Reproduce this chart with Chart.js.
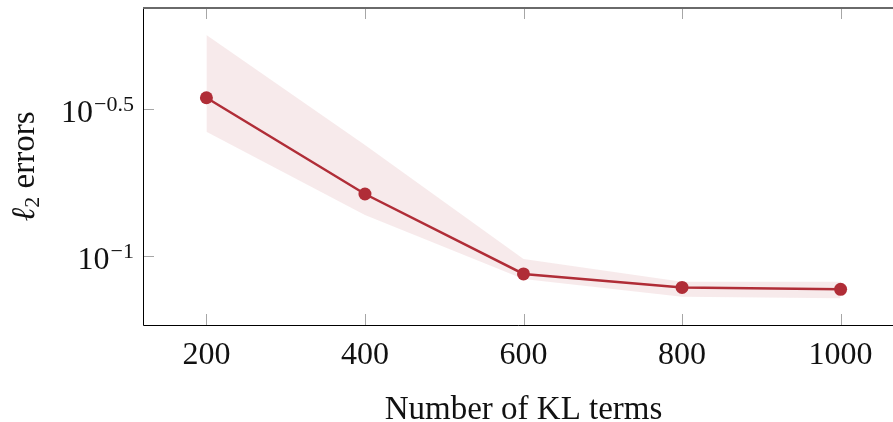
<!DOCTYPE html>
<html>
<head>
<meta charset="utf-8">
<script src="https://cdn.jsdelivr.net/npm/chart.js@4"></script>
<style>
  html, body { margin: 0; padding: 0; background: #fff; overflow: hidden; }
  #klChart { display: block; }
</style>
</head>
<body>
<canvas id="klChart" width="893" height="422" style="width:893px;height:422px"></canvas>
<script>
// data
const klTerms = [200, 400, 600, 800, 1000];
const meanError = [0.3454, 0.1625, 0.0869, 0.0782, 0.0770];
const upperError = [0.5646, 0.2385, 0.0977, 0.0818, 0.0818];
const lowerError = [0.2648, 0.1378, 0.0835, 0.0727, 0.0718];

// axis ticks
const xTicks = [200, 400, 600, 800, 1000];
const yTicks = [Math.pow(10, -1), Math.pow(10, -0.5)];
const yTickExps = ["\u22121", "\u22120.5"];

// the plot box spans 120..1080, but the picture is cut off at about 1066
const xBoxMin = 120;
const xBoxMax = 1080;
const xVisibleMax = 1066.1;

const lineColor = "rgb(176, 45, 55)";
const bandColor = "rgba(176, 45, 55, 0.1)";
const serif = "'Liberation Serif', 'DejaVu Serif', serif";

function toPoints(values) {
    return klTerms.map((k, i) => ({ x: k, y: values[i] }));
}

// draws the box, inner ticks and all the text (tex-like labels)
const framePlugin = {
    id: "frame",
    afterDraw(chart) {
        const { ctx, chartArea: a, scales: { x, y } } = chart;
        const boxRight = x.getPixelForValue(xBoxMax); // just outside the canvas
        ctx.save();

        // inner ticks on all four sides
        ctx.strokeStyle = "#a6a6a6";
        ctx.lineWidth = 1;
        ctx.beginPath();
        xTicks.forEach((v) => {
            const px = Math.round(x.getPixelForValue(v)) + 0.5;
            ctx.moveTo(px, a.bottom); ctx.lineTo(px, a.bottom - 11);
            ctx.moveTo(px, a.top); ctx.lineTo(px, a.top + 11);
        });
        yTicks.forEach((v) => {
            const py = Math.round(y.getPixelForValue(v)) + 0.5;
            ctx.moveTo(a.left, py); ctx.lineTo(a.left + 11, py);
            ctx.moveTo(boxRight, py); ctx.lineTo(boxRight - 11, py);
        });
        ctx.stroke();

        // box
        ctx.strokeStyle = "#000";
        ctx.beginPath();
        ctx.moveTo(a.left + 0.5, a.top);
        ctx.lineTo(a.left + 0.5, a.bottom + 0.5);
        ctx.lineTo(boxRight, a.bottom + 0.5);
        ctx.stroke();
        ctx.strokeStyle = "#6a6a6a";
        ctx.lineWidth = 1.8;
        ctx.beginPath();
        ctx.moveTo(a.left, a.top);
        ctx.lineTo(boxRight, a.top);
        ctx.stroke();

        ctx.fillStyle = "#111";
        ctx.textBaseline = "alphabetic";

        // x tick labels
        ctx.font = "32px " + serif;
        ctx.textAlign = "center";
        xTicks.forEach((v) => {
            ctx.fillText(String(v), x.getPixelForValue(v), a.bottom + 39);
        });

        // y tick labels: 10^exp
        yTicks.forEach((v, i) => {
            const py = y.getPixelForValue(v);
            ctx.textAlign = "right";
            ctx.font = "22px " + serif;
            ctx.fillText(yTickExps[i], 134, py + 2.5);
            const w = ctx.measureText(yTickExps[i]).width;
            ctx.font = "32px " + serif;
            ctx.fillText("10", 134 - w - 1, py + 13);
        });

        // x title
        ctx.font = "33px " + serif;
        ctx.textAlign = "center";
        ctx.fillText("Number of KL terms", (a.left + boxRight) / 2, 419);

        // y title, rotated
        ctx.translate(34, (a.top + a.bottom) / 2);
        ctx.rotate(-Math.PI / 2);
        ctx.textAlign = "left";
        ctx.font = "italic 33px " + serif;
        const wl = ctx.measureText("\u2113").width;
        ctx.font = "22px " + serif;
        const w2 = ctx.measureText("2").width;
        ctx.font = "33px " + serif;
        const we = ctx.measureText(" errors").width;
        let cx = -(wl + w2 + we) / 2;
        ctx.font = "italic 33px " + serif;
        ctx.fillText("\u2113", cx, 0);
        cx += wl;
        ctx.font = "22px " + serif;
        ctx.fillText("2", cx, 5);
        cx += w2;
        ctx.font = "33px " + serif;
        ctx.fillText(" errors", cx, 0);

        ctx.restore();
    },
};

const chartCtx = document.getElementById("klChart").getContext("2d");
const klChart = new Chart(chartCtx, {
    type: "line",
    data: {
        datasets: [
            {
                label: "mean",
                data: toPoints(meanError),
                borderColor: lineColor,
                backgroundColor: lineColor,
                borderWidth: 2.5,
                pointRadius: 6.5,
                pointHoverRadius: 6.5,
                pointBorderWidth: 0,
                fill: false,
                order: 0,
            },
            {
                label: "upper",
                data: toPoints(upperError),
                borderWidth: 0,
                borderColor: "transparent",
                backgroundColor: bandColor,
                pointRadius: 0,
                fill: "+1",
                order: 1,
            },
            {
                label: "lower",
                data: toPoints(lowerError),
                borderWidth: 0,
                borderColor: "transparent",
                pointRadius: 0,
                fill: false,
                order: 2,
            },
        ],
    },
    options: {
        responsive: false,
        animation: false,
        layout: {
            autoPadding: false,
            padding: { left: 143, top: 8, right: 0, bottom: 97 },
        },
        scales: {
            x: {
                type: "linear",
                display: false,
                min: xBoxMin,
                max: xVisibleMax,
            },
            y: {
                type: "logarithmic",
                display: false,
                min: Math.pow(10, -1.2347),
                max: Math.pow(10, -0.1565),
            },
        },
        plugins: {
            legend: { display: false },
            tooltip: { enabled: false },
        },
    },
    plugins: [framePlugin],
});
</script>
</body>
</html>
